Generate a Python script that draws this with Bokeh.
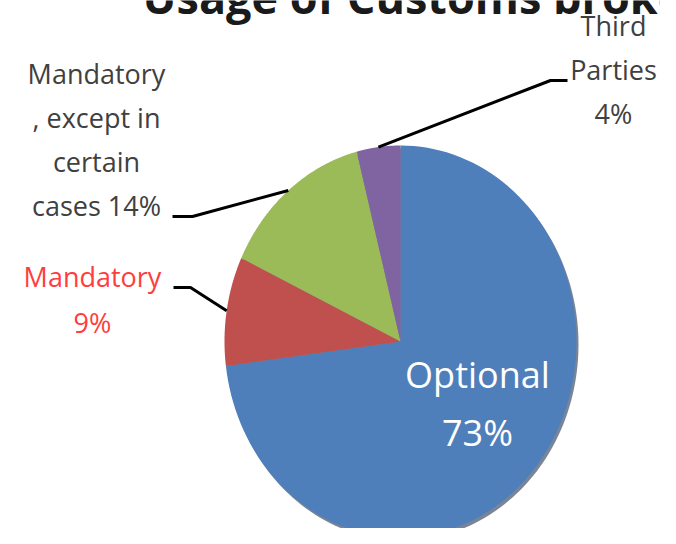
import numpy as np
from bokeh.plotting import figure
from bokeh.models import Range1d
from bokeh.core.properties import value
from bokeh.embed import file_html
from bokeh.resources import INLINE

# ---- data ----
categories = ["Optional", "Mandatory", "Mandatory, except in certain cases", "Third Parties"]
percent = [73, 9, 14, 4]
slice_colors = ["#4F7FBA", "#C0504D", "#9BBB59", "#8064A2"]
label_text = [
    "Optional\n73%",
    "Mandatory\n9%",
    "Mandatory\n, except in\ncertain\ncases 14%",
    "Third\nParties\n4%",
]
title_text = "Usage of Customs brokers"

# ---- layout (pixel coordinates) ----
W, H = 660, 528
p = figure(width=W, height=H, output_backend="svg", toolbar_location=None,
           x_range=Range1d(0, W), y_range=Range1d(H, 0),
           x_axis_type=None, y_axis_type=None, min_border=0)
p.grid.visible = False
p.outline_line_color = None
p.background_fill_color = "white"
p.border_fill_color = "white"

cx, cy, rx, ry = 400, 341, 176, 196

# shadow along the lower-right rim
t = np.linspace(0, 2 * np.pi, 200)
p.patch(cx + 2 + rx * np.sin(t), cy + 3 - ry * np.cos(t), fill_color="#1f3350",
        fill_alpha=0.6, line_color=None)

fr = np.array(percent, dtype=float) / sum(percent)
ends = np.cumsum(fr) * 2 * np.pi
starts = ends - fr * 2 * np.pi
mids = (starts + ends) / 2
for a0, a1, col in zip(starts, ends, slice_colors):
    tt = np.linspace(a0, a1, 120)
    xs = np.concatenate([[cx], cx + rx * np.sin(tt)])
    ys = np.concatenate([[cy], cy - ry * np.cos(tt)])
    p.patch(xs, ys, fill_color=col, line_color=None)

# leader lines: start at slice mid-angle on the rim, elbow points near labels
elbows = {1: [(190, 287), (173, 287)], 2: [(192, 216), (172, 216)], 3: [(550, 80), (567, 80)]}
for i, pts in elbows.items():
    sx = cx + rx * np.sin(mids[i])
    sy = cy - ry * np.cos(mids[i])
    xs = [sx] + [q[0] for q in pts]
    ys = [sy] + [q[1] for q in pts]
    p.line(xs, ys, line_color="black", line_width=3)

# labels (baseline positions; renderer places the baseline ~0.36em lower, compensate)
SHIFT = 0.36
label_pos = [(477, 387, 58), (92, 286, 46), (96, 83, 44), (613, 35, 44)]
label_size = [36, 27, 27, 27]
label_color = ["white", "#FF3D3D", "#404040", "#404040"]
for txt, (lx, ly, lh), fs, col in zip(label_text, label_pos, label_size, label_color):
    lines = txt.split("\n")
    p.text(x=[lx] * len(lines), y=[ly - SHIFT * fs + k * lh for k in range(len(lines))],
           text=lines, text_font=value("Open Sans"), text_font_size=f"{fs}px",
           text_color=col, text_align="center", text_baseline="alphabetic")

# cropped title (the reference shows only its lower part)
tfs = 45
p.text(x=[142], y=[12 - SHIFT * tfs], text=[title_text], text_font=value("Open Sans"),
       text_font_size=f"{tfs}px", text_font_style="bold", text_color="#1a1a1a",
       text_align="left", text_baseline="alphabetic")

open("out.html", "w").write(file_html(p, INLINE))
